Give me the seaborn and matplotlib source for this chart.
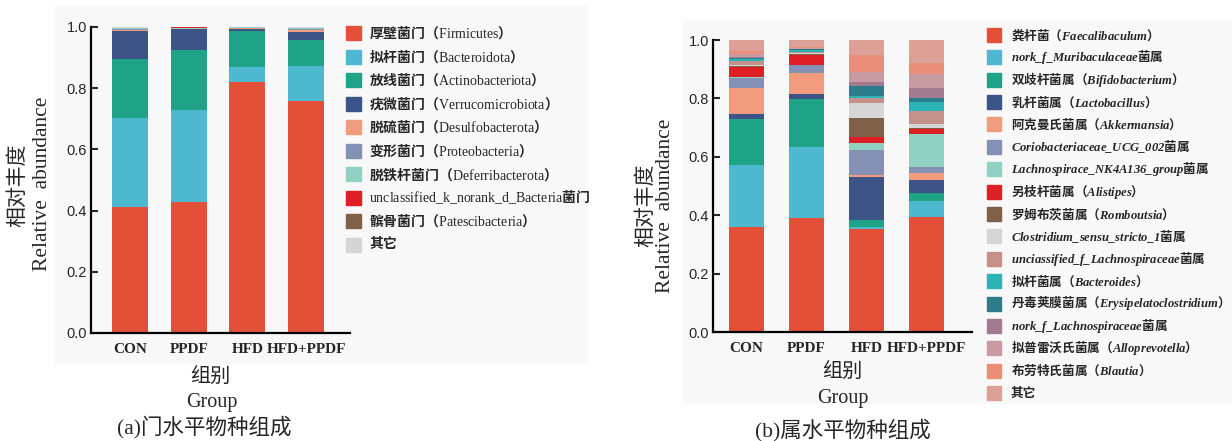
import matplotlib
matplotlib.use('Agg')
import matplotlib.pyplot as plt
from matplotlib.patches import Rectangle
import numpy as np
import pandas as pd
import seaborn as sns

# ---- data ----
groups = ['CON', 'PPDF', 'HFD', 'HFD+PPDF']

# (a) phylum level, bottom -> top
phylum_labels = ['厚壁菌门（$\\mathrm{Firmicutes}$）', '拟杆菌门（$\\mathrm{Bacteroidota}$）',
                 '放线菌门（$\\mathrm{Actinobacteriota}$）', '疣微菌门（$\\mathrm{Verrucomicrobiota}$）',
                 '脱硫菌门（$\\mathrm{Desulfobacterota}$）', '变形菌门（$\\mathrm{Proteobacteria}$）',
                 '脱铁杆菌门（$\\mathrm{Deferribacterota}$）',
                 '$\\mathrm{unclassified\\_k\\_norank\\_d\\_Bacteria}$菌门',
                 '髌骨菌门（$\\mathrm{Patescibacteria}$）', '其它']
phylum_colors = ['#E45037', '#4DB8D0', '#1FA386', '#3C5488', '#F39B7F', '#8491B4',
                 '#91D1C2', '#DF1F26', '#7E6148', '#D5D5D5']
con_phylum = [0.411, 0.293, 0.192, 0.091, 0.003, 0.005, 0.001, 0.001, 0.001, 0.002]
ppdf_phylum = [0.429, 0.299, 0.196, 0.069, 0.001, 0.001, 0.001, 0.003, 0.0005, 0.0005]
hfd_phylum = [0.820, 0.050, 0.117, 0.006, 0.004, 0.001, 0.001, 0.0, 0.0, 0.001]
hfdppdf_phylum = [0.759, 0.114, 0.086, 0.024, 0.006, 0.003, 0.005, 0.0005, 0.0005, 0.002]

# (b) genus level, bottom -> top  (\mathbf is mapped to bold italic below)
genus_labels = ['粪杆菌（$\\mathbf{Faecalibaculum}$）',
                '$\\mathbf{nork\\_f\\_Muribaculaceae}$菌属',
                '双歧杆菌属（$\\mathbf{Bifidobacterium}$）',
                '乳杆菌属（$\\mathbf{Lactobacillus}$）',
                '阿克曼氏菌属（$\\mathbf{Akkermansia}$）',
                '$\\mathbf{Coriobacteriaceae\\_UCG\\_002}$菌属',
                '$\\mathbf{Lachnospirace\\_NK4A136\\_group}$菌属',
                '另枝杆菌属（$\\mathbf{Alistipes}$）',
                '罗姆布茨菌属（$\\mathbf{Romboutsia}$）',
                '$\\mathbf{Clostridium\\_sensu\\_stricto\\_1}$菌属',
                '$\\mathbf{unciassified\\_f\\_Lachnospiraceae}$菌属',
                '拟杆菌属（$\\mathbf{Bacteroides}$）',
                '丹毒荚膜菌属（$\\mathbf{Erysipelatoclostridium}$）',
                '$\\mathbf{nork\\_f\\_Lachnospiraceae}$菌属',
                '拟普雷沃氏菌属（$\\mathbf{Alloprevotella}$）',
                '布劳特氏菌属（$\\mathbf{Blautia}$）',
                '其它']
genus_colors = ['#E45037', '#4DB8D0', '#1FA386', '#3C5488', '#F39B7F', '#8491B4', '#91D1C2',
                '#DF1F26', '#7E6148', '#D6D6D6', '#C4908A', '#2BB3B5', '#2D7C8C', '#A27B90',
                '#C89AA2', '#EA8E7A', '#DDA097']
con_genus = [0.358, 0.214, 0.158, 0.016, 0.091, 0.032, 0.004, 0.033, 0.006,
             0.003, 0.012, 0.008, 0.004, 0.004, 0.008, 0.010, 0.039]
ppdf_genus = [0.389, 0.246, 0.162, 0.018, 0.071, 0.028, 0.002, 0.033, 0.004,
              0.002, 0.004, 0.007, 0.002, 0.002, 0.003, 0.004, 0.023]
hfd_genus = [0.352, 0.009, 0.023, 0.148, 0.006, 0.085, 0.025, 0.019, 0.065,
             0.053, 0.015, 0.008, 0.035, 0.012, 0.035, 0.060, 0.050]
hfdppdf_genus = [0.395, 0.054, 0.026, 0.046, 0.025, 0.020, 0.111, 0.017, 0.005,
                 0.013, 0.045, 0.030, 0.015, 0.035, 0.045, 0.040, 0.078]

# ---- style ----
sns.set_style('ticks')
plt.rcParams['font.family'] = ['Liberation Sans', 'Noto Sans CJK SC']
plt.rcParams['mathtext.fontset'] = 'custom'
plt.rcParams['mathtext.rm'] = 'Liberation Serif'
plt.rcParams['mathtext.it'] = 'Liberation Serif:italic'
plt.rcParams['mathtext.bf'] = 'Liberation Serif:italic:bold'

W, H = 1232, 441
fig = plt.figure(figsize=(W / 100, H / 100), dpi=100)
fig.patch.set_facecolor('white')


def fx(x):
    return x / W


def fy(y):
    return 1 - y / H


serif_cjk = ['Liberation Serif', 'Noto Sans CJK SC']

# panel backgrounds
fig.patches.append(Rectangle((fx(55), fy(363)), fx(587 - 55), (363 - 6) / H,
                             transform=fig.transFigure, color='#f8f8f8', zorder=-10))
fig.patches.append(Rectangle((fx(683), fy(403)), fx(W - 683), (403 - 20) / H,
                             transform=fig.transFigure, color='#f8f8f8', zorder=-10))


def stacked(ax, cols, colors, width):
    df = pd.DataFrame(dict(zip(groups, cols)))
    cum = df.cumsum()
    # draw cumulative totals from the top layer down so each layer shows its own slice
    for i in range(len(df) - 1, -1, -1):
        sns.barplot(x=groups, y=cum.iloc[i].values, color=colors[i], saturation=1,
                    width=width, errorbar=None, linewidth=0, ax=ax)


def style_axes(ax, xlim):
    ax.set_facecolor('none')
    ax.set_xlim(*xlim)
    ax.set_ylim(0, 1.0)
    ax.set_yticks(np.arange(0, 1.01, 0.2))
    ax.set_yticklabels([f'{v:.1f}' for v in np.arange(0, 1.01, 0.2)])
    sns.despine(ax=ax)
    for s in ['left', 'bottom']:
        ax.spines[s].set_linewidth(1.6)
        ax.spines[s].set_color('black')
    ax.tick_params(axis='y', direction='in', length=5, width=1.5, labelsize=10.5, pad=3)
    ax.tick_params(axis='x', direction='in', length=5, width=1.5, pad=7)
    for lab in ax.get_xticklabels():
        lab.set_fontfamily('Liberation Serif')
        lab.set_fontweight('bold')
        lab.set_fontsize(11)
    ax.set_xlabel('')
    ax.set_ylabel('')


# ---- panel (a) ----
ax1 = fig.add_axes([fx(91), fy(333), fx(350 - 91), (333 - 27) / H])
stacked(ax1, [con_phylum, ppdf_phylum, hfd_phylum, hfdppdf_phylum], phylum_colors, 0.61)
style_axes(ax1, (-0.665, 3.75))

fig.text(fx(18), fy(185), '相对丰度', rotation=90, ha='center', va='center',
         family=serif_cjk, fontsize=15, weight='light')
fig.text(fx(43), fy(184), 'Relative  abundance', rotation=90, ha='center', va='center',
         family='Liberation Serif', fontsize=15.5)
fig.text(fx(210), fy(377), '组别', ha='center', va='center', family=serif_cjk, fontsize=14.5, weight='light')
fig.text(fx(212), fy(403), 'Group', ha='center', va='center', family='Liberation Serif', fontsize=14.5)
fig.text(fx(204), fy(427), '(a)门水平物种组成', ha='center', va='center', family=serif_cjk,
         fontsize=15.5, weight='light')

for i, (lab, col) in enumerate(zip(phylum_labels, phylum_colors)):
    y = 33 + 23.5 * i
    fig.patches.append(Rectangle((fx(346), fy(y + 7)), fx(15), 14 / H,
                                 transform=fig.transFigure, color=col))
    fig.text(fx(369), fy(y), lab, ha='left', va='center', family='Noto Sans CJK SC',
             fontsize=10, weight='bold')

# ---- panel (b) ----
ax2 = fig.add_axes([fx(713), fy(332), fx(972 - 713), (332 - 40) / H])
stacked(ax2, [con_genus, ppdf_genus, hfd_genus, hfdppdf_genus], genus_colors, 0.58)
style_axes(ax2, (-0.56, 3.76))

fig.text(fx(646), fy(205), '相对丰度', rotation=90, ha='center', va='center',
         family=serif_cjk, fontsize=15, weight='light')
fig.text(fx(665), fy(206), 'Relative  abundance', rotation=90, ha='center', va='center',
         family='Liberation Serif', fontsize=15.5)
fig.text(fx(842), fy(372), '组别', ha='center', va='center', family=serif_cjk, fontsize=14.5, weight='light')
fig.text(fx(843), fy(398), 'Group', ha='center', va='center', family='Liberation Serif', fontsize=14.5)
fig.text(fx(843), fy(430), '(b)属水平物种组成', ha='center', va='center', family=serif_cjk,
         fontsize=15.5, weight='light')

for i, (lab, col) in enumerate(zip(genus_labels, genus_colors)):
    y = 35 + 22.375 * i
    fig.patches.append(Rectangle((fx(987), fy(y + 7)), fx(14), 14 / H,
                                 transform=fig.transFigure, color=col))
    fig.text(fx(1011), fy(y), lab, ha='left', va='center', family='Noto Sans CJK SC',
             fontsize=9.1, weight='bold')

fig.savefig('out.png', dpi=100)
